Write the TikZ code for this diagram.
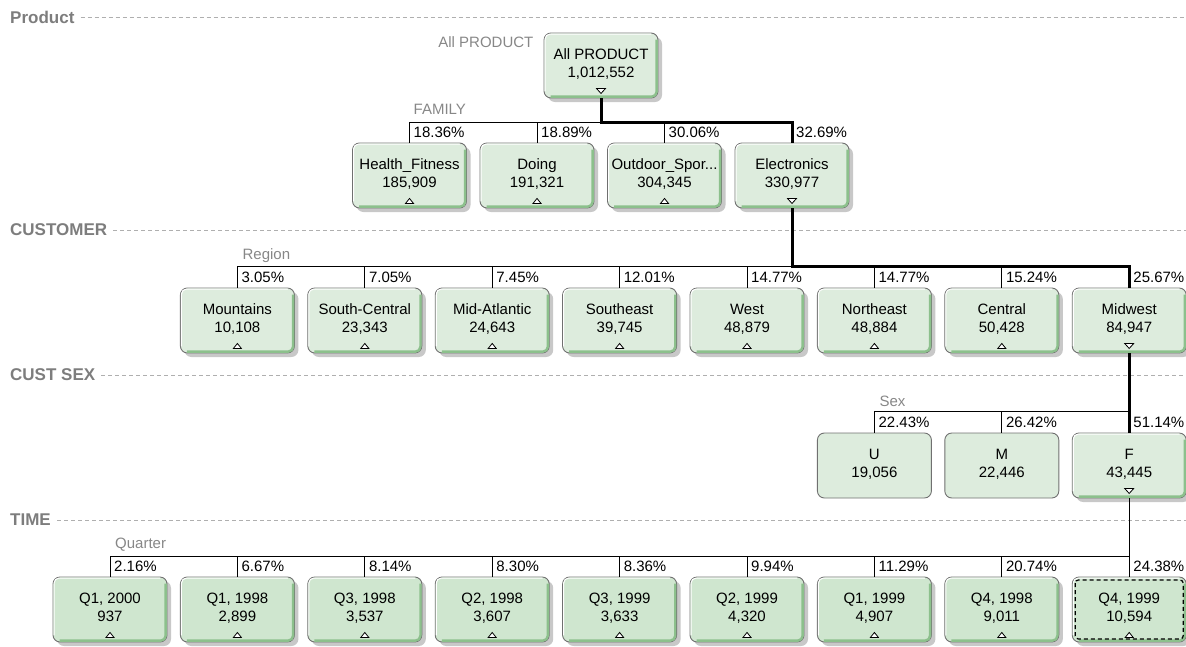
\documentclass[tikz,border=0pt]{standalone}
\usepackage{fontspec}
\setmainfont{Liberation Sans}
\usetikzlibrary{calc,shadows}
\definecolor{boxfill}{RGB}{221,236,221}
\definecolor{qfill}{RGB}{207,230,207}
\definecolor{bordergray}{RGB}{112,112,112}
\definecolor{bevelgreen}{RGB}{140,192,140}
\definecolor{shadowgray}{RGB}{200,200,200}
\definecolor{labelgray}{RGB}{135,135,135}
\definecolor{bandgray}{RGB}{125,125,125}
\definecolor{dashgray}{RGB}{175,175,175}
\tikzset{
  basebox/.style={draw=bordergray, line width=0.9pt, fill=boxfill, rounded corners=7pt,
    minimum width=114pt, minimum height=65pt, inner sep=0pt, align=center,
    font=\fontsize{15}{18}\selectfont, text height=27pt, text depth=3pt},
  box/.style={basebox, general shadow={fill=shadowgray, shadow xshift=4pt, shadow yshift=-4pt}},
  qbox/.style={box, fill=qfill},
  flatbox/.style={basebox},
  conn/.style={draw=black, line width=1pt},
  sel/.style={draw=black, line width=3pt, line join=miter},
  pct/.style={anchor=west, inner sep=0pt, font=\fontsize{15}{18}\selectfont},
  lvl/.style={anchor=west, inner sep=0pt, text=labelgray, font=\fontsize{15}{18}\selectfont},
  band/.style={anchor=west, inner sep=0pt, text=bandgray, font=\fontsize{17}{20}\selectfont\bfseries},
  bandline/.style={draw=dashgray, line width=1pt, dash pattern=on 4pt off 3pt},
  bevelline/.style={draw=bevelgreen, line width=2.4pt, rounded corners=5pt},
  hiline/.style={draw=white, line width=1pt, rounded corners=5pt},
  tri/.style={draw=black, fill=white, line width=0.8pt, line join=miter},
  focus/.style={draw=black, line width=1.2pt, dash pattern=on 4pt off 3pt, rounded corners=3pt}
}
\newcommand\bevel[1]{%
  \draw[bevelline] ($(#1.north east)+(-1.8,7)$) -- ($(#1.south east)+(-1.8,-1.8)$) -- ($(#1.south west)+(7,-1.8)$);
  \draw[hiline] ($(#1.south west)+(1.5,-7)$) -- ($(#1.north west)+(1.5,1.5)$) -- ($(#1.north east)+(-7,1.5)$);}
\newcommand\triup[1]{\draw[tri] ($(#1.south)+(-4,-5)$) -- ($(#1.south)+(4,-5)$) -- ($(#1.south)+(0,-10)$) -- cycle;}
\newcommand\tridown[1]{\draw[tri] ($(#1.south)+(-4.5,-10)$) -- ($(#1.south)+(4.5,-10)$) -- ($(#1.south)+(0,-5)$) -- cycle;}
\begin{document}
\begin{tikzpicture}[x=1pt,y=-1pt]
\useasboundingbox (0,0) rectangle (1186,646);
\coordinate (E) at (1186,0);
\coordinate (b1) at (0,122);
\coordinate (b2) at (0,266);
\coordinate (b3) at (0,411);
\coordinate (b4) at (0,556);

% band labels
\node[band] (bprod) at (10,17) {Product};
\node[band] (bcust) at (10,230) {CUSTOMER};
\node[band] (bsex) at (10,375) {CUST SEX};
\node[band] (btime) at (10,520) {TIME};
\foreach \b in {bprod,bcust,bsex,btime}
  \draw[bandline] ($(\b.east)+(6,0)$) -- (\b.east -| E);

% level 0
\node[box] (allp) at (601,65.5) {All PRODUCT\\1,012,552};
\node[lvl, anchor=east] (lallp) at ($(allp.north west)+(-10,10)$) {All PRODUCT};

% level 1
\node[box] (hf) at (409.5,175.5) {Health\_Fitness\\185,909};
\node[box] (doing) at (537,175.5) {Doing\\191,321};
\node[box] (outd) at (664.5,175.5) {Outdoor\_Spor...\\304,345};
\node[box] (elec) at (792,175.5) {Electronics\\330,977};
\node[lvl] (lfam) at ($(hf.north)+(4,-33)$) {FAMILY};

% level 2
\foreach \k/\n/\v in {1/Mountains/{10,108}, 2/South-Central/{23,343}, 3/Mid-Atlantic/{24,643},
  4/Southeast/{39,745}, 5/West/{48,879}, 6/Northeast/{48,884}, 7/Central/{50,428}, 8/Midwest/{84,947}}
  \node[box] (c\k) at (110+127.4*\k,320.5) {\n\\\v};
\node[lvl] (lreg) at ($(c1.north)+(5,-32)$) {Region};

% level 3
\node[flatbox] (s6) at (110+127.4*6,465.5) {U\\19,056};
\node[flatbox] (s7) at (110+127.4*7,465.5) {M\\22,446};
\node[box] (s8) at (110+127.4*8,465.5) {F\\43,445};
\node[lvl] (lsex) at ($(s6.north)+(5,-31)$) {Sex};

% level 4
\foreach \k/\n/\v in {0/{Q1, 2000}/937, 1/{Q1, 1998}/{2,899}, 2/{Q3, 1998}/{3,537}, 3/{Q2, 1998}/{3,607},
  4/{Q3, 1999}/{3,633}, 5/{Q2, 1999}/{4,320}, 6/{Q1, 1999}/{4,907}, 7/{Q4, 1998}/{9,011}, 8/{Q4, 1999}/{10,594}}
  \node[qbox] (t\k) at (110+127.4*\k,609.5) {\n\\\v};
\node[lvl] (lq) at ($(t0.north)+(5,-32)$) {Quarter};

% bevels and triangles
\foreach \m in {allp,hf,doing,outd,elec,c1,c2,c3,c4,c5,c6,c7,c8,s8,t0,t1,t2,t3,t4,t5,t6,t7,t8}
  \bevel{\m};
\foreach \m in {hf,doing,outd,c1,c2,c3,c4,c5,c6,c7,t0,t1,t2,t3,t4,t5,t6,t7,t8}
  \triup{\m};
\foreach \m in {allp,elec,c8,s8}
  \tridown{\m};
\draw[focus] ($(t8.north west)+(3.5,3.5)$) rectangle ($(t8.south east)+(-3.5,-3.5)$);

% connectors thin
\foreach \m in {hf,doing,outd,elec}
  \draw[conn] (allp.south) -- (allp.south |- b1) -| (\m.north);
\foreach \m in {c1,c2,c3,c4,c5,c6,c7,c8}
  \draw[conn] (elec.south) -- (elec.south |- b2) -| (\m.north);
\foreach \m in {s6,s7,s8}
  \draw[conn] (c8.south) -- (c8.south |- b3) -| (\m.north);
\foreach \m in {t0,t1,t2,t3,t4,t5,t6,t7,t8}
  \draw[conn] (s8.south) -- (s8.south |- b4) -| (\m.north);
% selected path
\draw[sel] (allp.south) -- (allp.south |- b1) -| (elec.north);
\draw[sel] (elec.south) -- (elec.south |- b2) -| (c8.north);
\draw[sel] (c8.south) -- (s8.north);

% percentages
\foreach \m/\p in {hf/18.36, doing/18.89, outd/30.06, elec/32.69,
  c1/3.05, c2/7.05, c3/7.45, c4/12.01, c5/14.77, c6/14.77, c7/15.24, c8/25.67,
  s6/22.43, s7/26.42, s8/51.14,
  t0/2.16, t1/6.67, t2/8.14, t3/8.30, t4/8.36, t5/9.94, t6/11.29, t7/20.74, t8/24.38}
  \node[pct] (p\m) at ($(\m.north)+(4,-10.5)$) {\p\%};
\end{tikzpicture}
\end{document}
